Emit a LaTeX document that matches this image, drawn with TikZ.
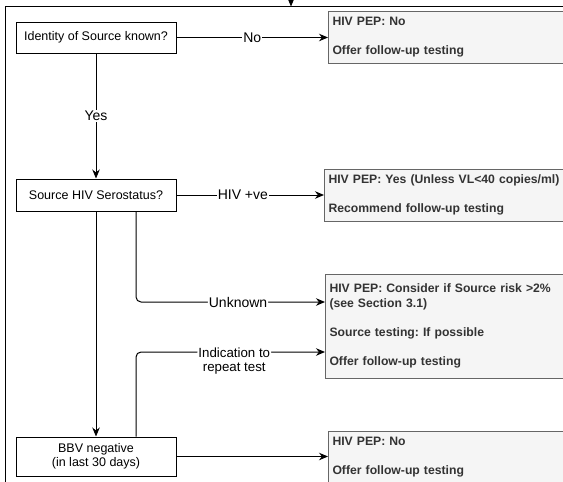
\documentclass[tikz,border=0pt]{standalone}
\usepackage{fontspec}
\setmainfont{Liberation Sans}
\frenchspacing
\usetikzlibrary{arrows.meta}
\definecolor{resfill}{HTML}{F5F5F5}
\definecolor{resline}{HTML}{666666}
\definecolor{restext}{HTML}{333333}
\tikzset{
	question/.style={draw, line width=1pt, minimum width=160pt, inner sep=2pt, align=center, font=\fontsize{12.5}{13.5}\selectfont},
	outcome/.style={draw=resline, fill=resfill, line width=1pt, anchor=west, text width=260pt, inner xsep=4pt, align=left, text=restext, font=\bfseries\fontsize{12.2}{14.7}\selectfont},
	flow/.style={line width=1pt, -{Stealth[length=9pt, width=7.5pt]}},
	edgelabel/.style={fill=white, inner sep=1pt, font=\fontsize{14}{16}\selectfont}
}

\begin{document}
\begin{tikzpicture}[x=1pt, y=-1pt]
			%%%%% START %%%%%
			\useasboundingbox (0,0) rectangle (563,482);
			\clip (0,0) rectangle (563,482);
			
			\coordinate (frameBL) at (5,490);
			\coordinate (frameTL) at (5,6);
			\coordinate (frameTR) at (570,6);
			\draw[line width=1pt] (frameBL) -- (frameTL) -- (frameTR);
			\coordinate (entryTop) at (291,-8);
			\coordinate (entryTip) at (291,6.5);
			\draw[flow] (entryTop) -- (entryTip);
			
			\node[question, minimum height=31pt] (identity) at (96,37.5) {Identity of Source known?};
			\node[question, minimum height=32pt] (serostatus) at (96,195) {Source HIV Serostatus?};
			\node[question, minimum height=39pt] (bbvneg) at (96,456.5) {BBV negative\\(in last 30 days)};
			
			\node[outcome, minimum height=52pt] (noPEP) at (328,37) {HIV PEP: No\\[14.7pt]Offer follow-up testing};
			\node[outcome, minimum height=52pt] (yesPEP) at (324,195) {HIV PEP: Yes (Unless VL<40 copies/ml)\\[14.7pt]Recommend follow-up testing};
			\node[outcome, minimum height=104pt] (considerPEP) at (325,326) {HIV PEP: Consider if Source risk >2\%\\(see Section 3.1)\\[14.7pt]Source testing: If possible\\[14.7pt]Offer follow-up testing};
			\node[outcome, minimum height=52pt] (noPEPneg) at (328,457) {HIV PEP: No\\[14.7pt]Offer follow-up testing};
			
			\draw[flow] (identity.east) -- node[edgelabel]{No} (noPEP.west |- identity.east);
			\draw[flow] (identity.south) -- node[edgelabel]{Yes} (serostatus.north);
			\draw[flow] (serostatus.east) -- node[edgelabel, pos=0.45]{HIV +ve} (yesPEP.west |- serostatus.east);
			\draw[flow, rounded corners=5pt] ([xshift=40pt]serostatus.south) |- node[edgelabel, pos=0.77]{Unknown} ([yshift=24pt]considerPEP.west);
			\draw[flow, rounded corners=5pt] ([xshift=40pt]bbvneg.north) |- node[edgelabel, pos=0.76, anchor=north, yshift=6pt, align=center, font=\fontsize{13.3}{14}\selectfont]{Indication to\\repeat test} ([yshift=-26pt]considerPEP.west);
			\draw[flow] (serostatus.south) -- (bbvneg.north);
			\draw[flow] (bbvneg.east) -- (noPEPneg.west |- bbvneg.east);
			
			%%%%% END %%%%%
\end{tikzpicture}
\end{document}
